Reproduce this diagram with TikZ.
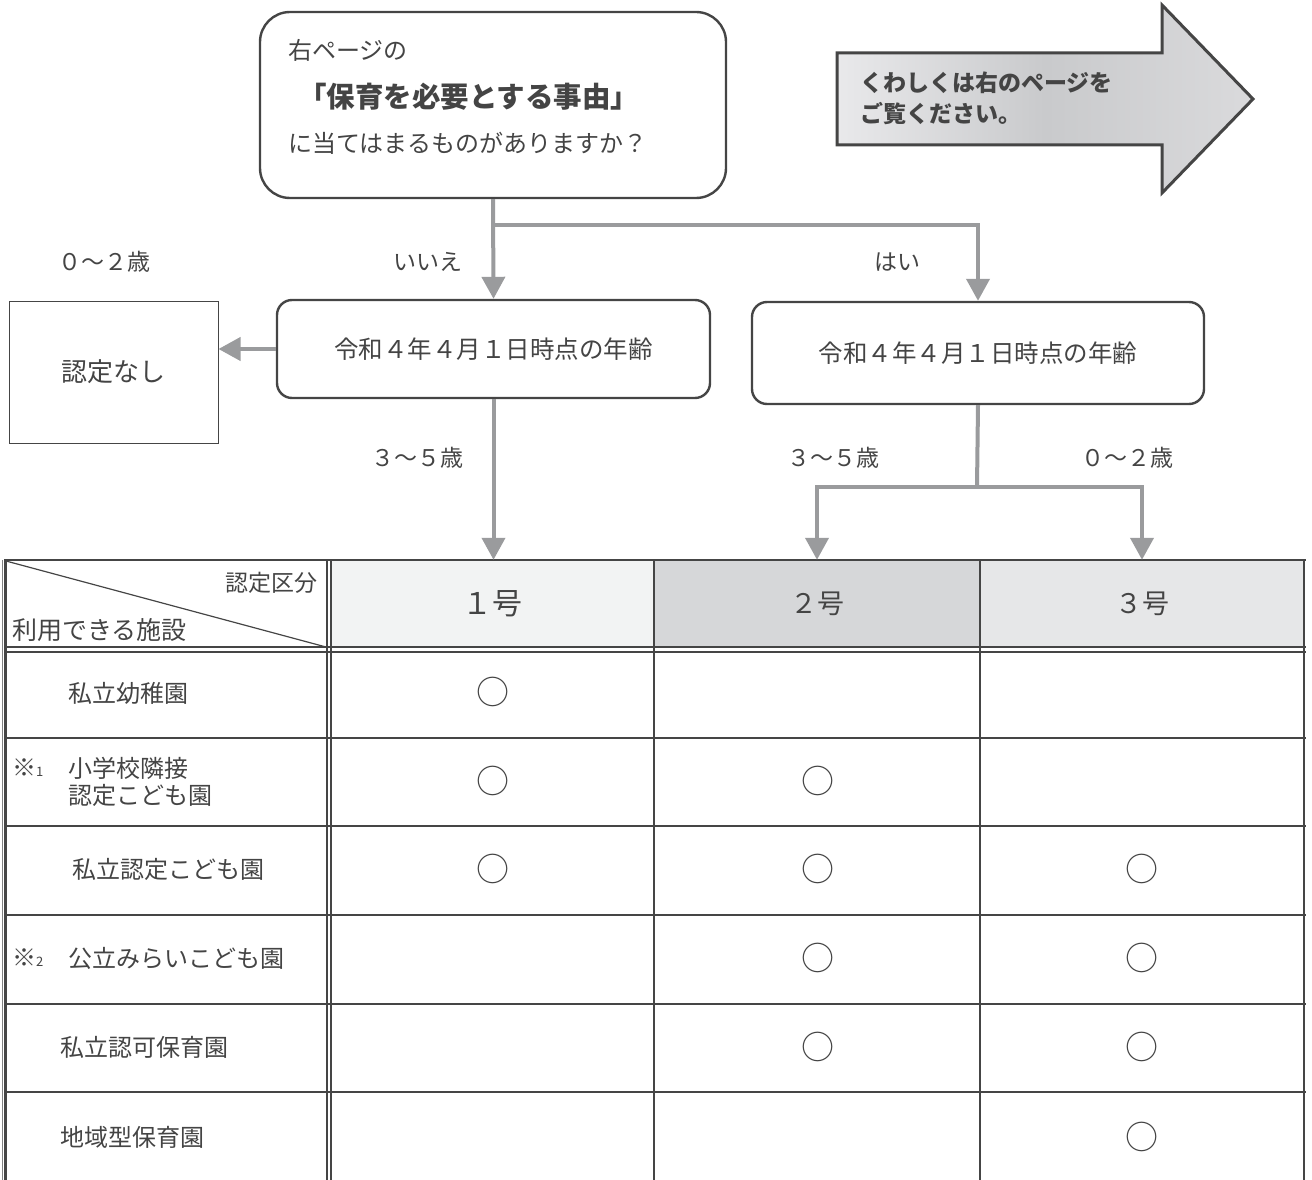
\documentclass[tikz,border=0pt]{standalone}
\usepackage{fontspec}
\setmainfont{Noto Sans CJK JP}
\usetikzlibrary{arrows.meta,calc}
\definecolor{ln}{HTML}{454545}
\definecolor{txt}{HTML}{444444}
\definecolor{conn}{HTML}{9A9B9D}
\definecolor{hA}{HTML}{F2F3F3}
\definecolor{hB}{HTML}{D6D7D9}
\definecolor{hC}{HTML}{E6E7E8}
\definecolor{arL}{HTML}{E9E9EB}
\definecolor{arM}{HTML}{C9CACC}
\definecolor{arR}{HTML}{DADADC}
\newcommand{\fs}[1]{\fontsize{#1}{#1}\selectfont}
\begin{document}
\begin{tikzpicture}[x=1pt,y=-1pt,
  rbox/.style={draw=ln, line width=2.4pt, fill=white, inner sep=0pt},
  lbl/.style={text=txt, font=\fs{23}, inner sep=0pt},
  rowlbl/.style={text=txt, font=\fs{24}, inner sep=0pt, anchor=west},
  conn/.style={draw=conn, line width=4pt, -{Triangle[width=23pt,length=22pt]}},
  plain/.style={draw=conn, line width=4pt},
  tline/.style={draw=ln, line width=2.5pt},
  okmark/.style={text=txt, font=\fs{33}, inner sep=0pt},
  hcell/.style={inner sep=0pt, minimum height=87pt, text=txt}]
\useasboundingbox (0,0) rectangle (1312,1180);

% ---- top question box
\node[rbox, rounded corners=30pt, minimum width=466pt, minimum height=186pt] (q) at (493,105) {};
\node[lbl, anchor=west, font=\fs{24}] (q1) at (288,50) {右ページの};
\node[lbl, anchor=west, font=\fs{28.5}\bfseries] (q2) at (298,97) {「保育を必要とする事由」};
\node[lbl, anchor=west, font=\fs{24}] (q3) at (288,143) {に当てはまるものがありますか？};

% ---- big arrow
\shadedraw[draw=ln, line width=3pt, left color=arL, right color=arR, middle color=arM]
  (837,53) -- (1162,53) -- (1162,5) -- (1253,99) -- (1162,193) -- (1162,145) -- (837,145) -- cycle;
\node[lbl, anchor=west, font=\fs{23}\bfseries, align=left] (ar) at (860,98)
  {くわしくは右のページを\\[8pt]ご覧ください。};

% ---- age boxes
\node[rbox, rounded corners=15pt, minimum width=433pt, minimum height=98pt, text=txt, font=\fs{24.5}] (b2) at (493.5,349) {令和４年４月１日時点の年齢};
\node[rbox, rounded corners=15pt, minimum width=452pt, minimum height=102pt, text=txt, font=\fs{24.5}] (b3) at (978,353) {令和４年４月１日時点の年齢};
\node[draw=ln, line width=1pt, fill=white, minimum width=209pt, minimum height=142pt, inner sep=0pt, text=txt, font=\fs{26}] (nn) at (113.5,372) {認定なし};

% ---- labels
\node[lbl] (l02a) at (104,262) {０〜２歳};
\node[lbl] (lno) at (428,262) {いいえ};
\node[lbl] (lyes) at (897,262) {はい};
\node[lbl] (l35a) at (417,458) {３〜５歳};
\node[lbl] (l35b) at (833,458) {３〜５歳};
\node[lbl] (l02b) at (1127,458) {０〜２歳};

% ---- table header cells
\node[hcell, fill=hA, minimum width=323pt, font=\fs{30}] (h1) at (492.5,603.5) {１号};
\node[hcell, fill=hB, minimum width=326pt, font=\fs{27}] (h2) at (817,603.5) {２号};
\node[hcell, fill=hC, minimum width=324pt, font=\fs{27}] (h3) at (1142,603.5) {３号};
\node[lbl, anchor=east] (hk) at (318,583) {認定区分};
\node[lbl, anchor=west, font=\fs{25}] (hs) at (12,630) {利用できる施設};

% ---- table lines
\draw[ln, line width=1.2pt] (6,561) -- (326,647);
\draw[tline] (4,560) -- (1305.5,560);
\draw[ln, line width=2pt] (4,647) -- (1305.5,647);
\draw[ln, line width=2pt] (4,652) -- (1305.5,652);
\foreach \yy in {738,826,915,1004,1092} {\draw[tline] (4,\yy) -- (1305.5,\yy);}
\draw[gray, line width=1pt] (2,560) -- (2,1180);
\draw[ln, line width=2.6pt] (5.5,559) -- (5.5,1180);
\draw[ln, line width=2pt] (326.5,559) -- (326.5,1180);
\draw[ln, line width=2pt] (331,559) -- (331,1180);
\draw[tline] (654,559) -- (654,1180);
\draw[tline] (980,559) -- (980,1180);
\draw[ln, line width=2.6pt] (1304,559) -- (1304,1180);

% ---- row labels
\node[rowlbl] (r1) at (68,693) {私立幼稚園};
\node[rowlbl] (r2n) at (12,768) {※{\fs{13}1}};
\node[rowlbl, align=left, font=\fontsize{24}{27}\selectfont] (r2) at (68,781.5) {小学校隣接\\認定こども園};
\node[rowlbl] (r3) at (72,869) {私立認定こども園};
\node[rowlbl] (r4n) at (12,958) {※{\fs{13}2}};
\node[rowlbl] (r4) at (68,958) {公立みらいこども園};
\node[rowlbl] (r5) at (60,1047) {私立認可保育園};
\node[rowlbl] (r6) at (60,1137) {地域型保育園};

% ---- marks
\node[okmark] (m11) at (492.5,692) {○};
\node[okmark] (m21) at (492.5,781) {○};
\node[okmark] (m22) at (818,781) {○};
\node[okmark] (m31) at (492.5,869) {○};
\node[okmark] (m32) at (818,869) {○};
\node[okmark] (m33) at (1142,869) {○};
\node[okmark] (m42) at (818,958) {○};
\node[okmark] (m43) at (1142,958) {○};
\node[okmark] (m52) at (818,1047) {○};
\node[okmark] (m53) at (1142,1047) {○};
\node[okmark] (m63) at (1142,1137) {○};

% ---- connectors
\draw[conn] (q.south) -- (b2.north);
\coordinate (j1) at (493,225);
\draw[conn] (j1) -| (b3.north);
\draw[conn] (b2.west) -- (b2.west -| nn.east);
\draw[conn] (b2.south) -- (b2.south |- h1.north);
\coordinate (j2) at (977,487);
\draw[plain] (b3.south) -- (j2);
\draw[conn] (j2) -| (h2.north);
\draw[conn] (j2) -| (h3.north);
\end{tikzpicture}
\end{document}
